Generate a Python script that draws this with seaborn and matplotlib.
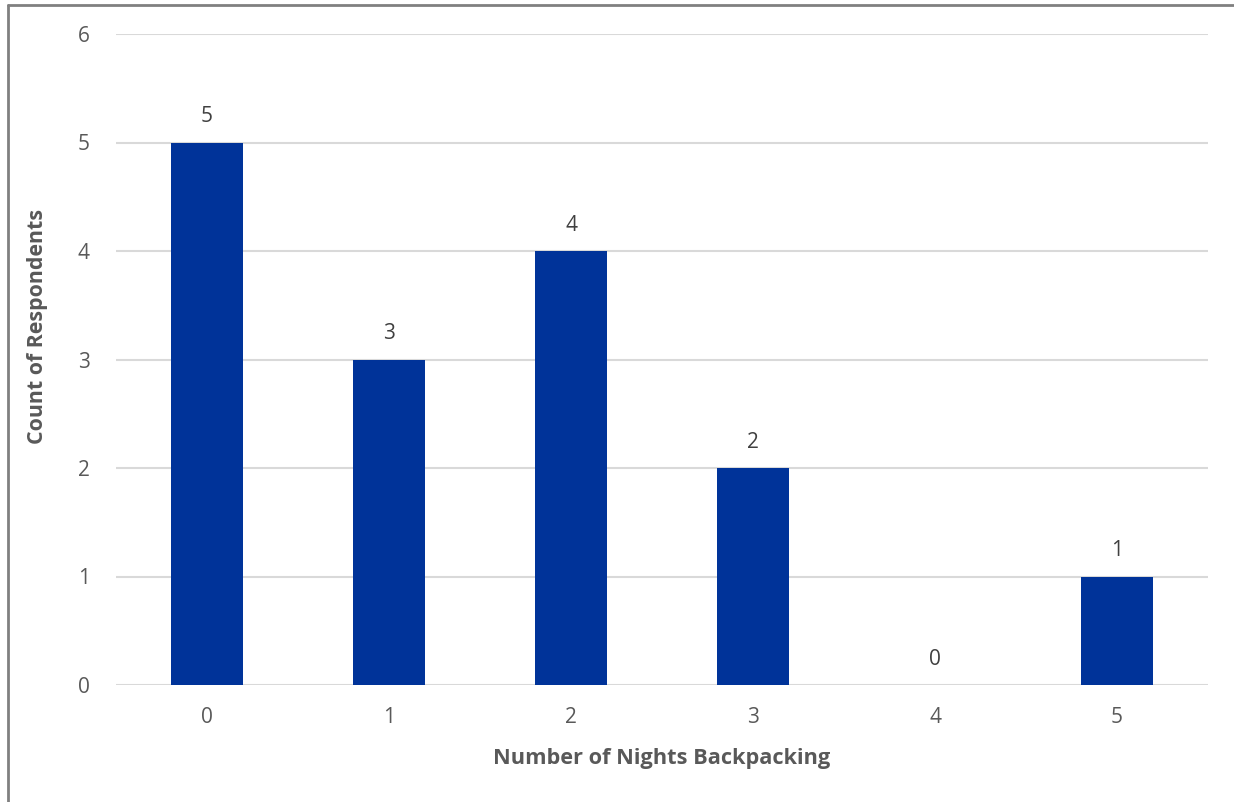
import matplotlib
matplotlib.use("Agg")
import matplotlib.pyplot as plt
import seaborn as sns
import pandas as pd
from matplotlib.lines import Line2D

nights = ["0", "1", "2", "3", "4", "5"]
counts = [5, 3, 4, 2, 0, 1]
y_ticks = [0, 1, 2, 3, 4, 5, 6]

sns.set_theme(style="white")
plt.rcParams['font.family'] = ['Open Sans', 'DejaVu Sans']

df = pd.DataFrame({"nights": nights, "count": counts})

fig = plt.figure(figsize=(12.34, 8.02), dpi=100)
ax = fig.add_axes([116/1234, 1-685/802, (1208-116)/1234, (685-34)/802])

sns.barplot(data=df, x="nights", y="count", color="#003399", width=0.4,
            saturation=1, ax=ax, zorder=3, linewidth=0, edgecolor="none")

ax.set_ylim(0, 6)
ax.set_xlim(-0.5, 5.5)
ax.set_yticks(y_ticks)
ax.yaxis.grid(True, color="#d9d9d9", linewidth=1.5, zorder=0)
ax.set_axisbelow(True)
for s in ax.spines.values():
    s.set_visible(False)
ax.tick_params(axis="both", length=0, labelsize=15, labelcolor="#595959")
ax.tick_params(axis="y", pad=19)
ax.tick_params(axis="x", pad=16)

for i, v in enumerate(counts):
    ax.annotate(str(v), (i, v), xytext=(0, 11), textcoords="offset points",
                ha="center", va="bottom", fontsize=15, color="#404040")

ax.set_xlabel("Number of Nights Backpacking", fontsize=15.7, fontweight="bold",
              color="#595959", labelpad=14)
ax.set_ylabel("Count of Respondents", fontsize=15.4, fontweight="bold",
              color="#595959")
ax.yaxis.set_label_coords(-0.062, 0.5515)

fig.add_artist(Line2D([7.5/1234, 7.5/1234], [0, 1-5/802], color="#808080", linewidth=2))
fig.add_artist(Line2D([7.5/1234, 1], [1-5/802, 1-5/802], color="#808080", linewidth=2))

fig.savefig("out.png", dpi=100, facecolor="white")
